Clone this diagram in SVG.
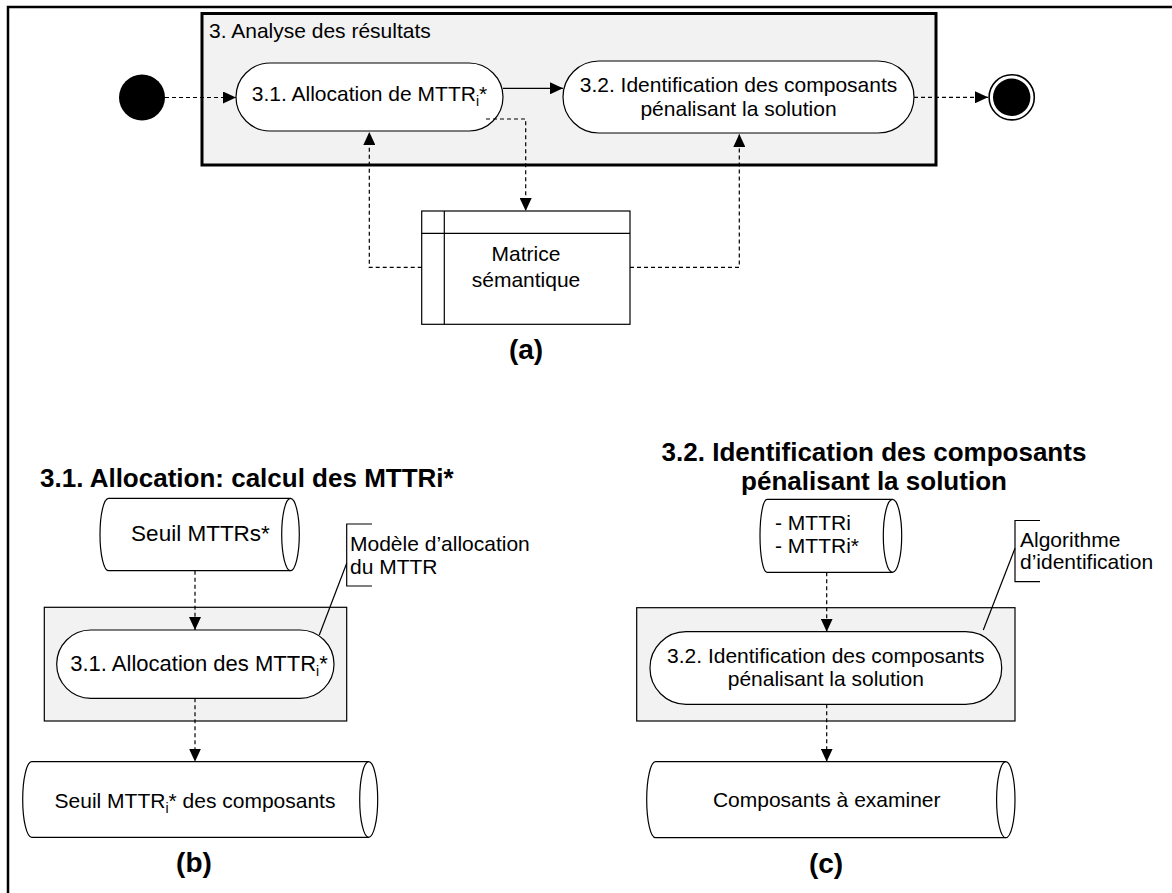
<svg xmlns="http://www.w3.org/2000/svg" width="1172" height="893" viewBox="0 0 1172 893">
  <style>
    text { font-family: "Liberation Sans", Arial, sans-serif; fill: #000; }
    .t { font-size: 21px; }
    .t22 { font-size: 22px; }
    .mid { text-anchor: middle; }
    .title { font-size: 26px; font-weight: bold; }
    .label { font-size: 28px; font-weight: bold; text-anchor: middle; }
    .sub { font-size: 14px; }
    .shape { fill: #fff; stroke: #000; stroke-width: 1.2; }
    .panel { fill: #f2f2f2; stroke: #000; stroke-width: 1.2; }
    .dash { fill: none; stroke: #000; stroke-width: 1.2; stroke-dasharray: 4 3; }
    .solid { fill: none; stroke: #000; stroke-width: 1.2; }
  </style>
  <defs>
    <marker id="arrow" markerUnits="userSpaceOnUse" markerWidth="14" markerHeight="12" refX="13" refY="6" orient="auto">
      <path d="M0,0 L13,6 L0,12 Z" fill="#000"/>
    </marker>
  </defs>

  <rect width="1172" height="893" fill="#fff"/>
  <!-- outer frame -->
  <path d="M8,893 V7 H1172" fill="none" stroke="#000" stroke-width="2.5"/>

  <!-- (a) activity container -->
  <g id="container-analyse">
    <rect x="202" y="13.5" width="734" height="151.5" fill="#f2f2f2" stroke="#000" stroke-width="3"/>
    <text class="t" x="209" y="37.5">3. Analyse des résultats</text>
  </g>

  <g id="start">
    <circle cx="142" cy="97.5" r="23" fill="#000"/>
  </g>

  <g id="end">
    <circle cx="1011.7" cy="97.3" r="22.6" fill="#fff" stroke="#000" stroke-width="1.6"/>
    <circle cx="1011.7" cy="97.3" r="18.7" fill="#000"/>
  </g>

  <g id="a-allocation">
    <rect class="shape" x="236" y="63" width="267" height="68" rx="34" ry="34"/>
    <text class="t mid" x="369.5" y="101">3.1. Allocation de MTTR<tspan class="sub" dy="5">i</tspan><tspan dy="-5">*</tspan></text>
  </g>

  <g id="a-identification">
    <rect class="shape" x="563" y="61" width="351" height="72" rx="36" ry="36"/>
    <text class="t mid" x="738.5" y="91.5">3.2. Identification des composants</text>
    <text class="t mid" x="738.5" y="115.5">pénalisant la solution</text>
  </g>

  <g id="a-matrice">
    <rect class="shape" x="421.7" y="211" width="208.3" height="113.3"/>
    <path class="solid" d="M444.3,211 V324.3 M421.7,233.3 H630"/>
    <text class="t mid" x="526" y="261">Matrice</text>
    <text class="t mid" x="526" y="286.5">sémantique</text>
  </g>

  <text class="label" x="526" y="359">(a)</text>

  <!-- (b) allocation detail -->
  <text class="title" x="40" y="487">3.1. Allocation: calcul des MTTRi*</text>

  <g id="b-seuil">
    <path class="shape" d="M108.5,498.3 H290.5 A8.8,36.2 0 0 1 290.5,570.7 H108.5 A8.5,36.2 0 0 1 108.5,498.3 Z"/>
    <path class="solid" d="M290.5,498.3 A8.8,36.2 0 0 0 290.5,570.7"/>
    <text class="mid" style="font-size:22.5px" x="200.5" y="540.7">Seuil MTTRs*</text>
  </g>

  <g id="b-panel">
    <rect class="panel" x="44.3" y="607.3" width="302.4" height="113.7"/>
  </g>

  <g id="b-allocation">
    <rect class="shape" x="56.7" y="630" width="277.3" height="68.3" rx="34" ry="34"/>
    <text class="t22 mid" x="199" y="671">3.1. Allocation des MTTR<tspan class="sub" dy="5">i</tspan><tspan dy="-5">*</tspan></text>
  </g>

  <g id="b-note">
    <path class="solid" d="M372,524 H346.7 V586 H372"/>
    <text class="t" x="350" y="550.5">Modèle d’allocation</text>
    <text class="t" x="350" y="573.5">du MTTR</text>
  </g>

  <g id="b-seuil-composants">
    <path class="shape" d="M31.7,761.7 H368.7 A9,37.8 0 0 1 368.7,837.3 H31.7 A9,37.8 0 0 1 31.7,761.7 Z"/>
    <path class="solid" d="M368.7,761.7 A9,37.8 0 0 0 368.7,837.3"/>
    <text class="t mid" x="195" y="808.3">Seuil MTTR<tspan class="sub" dy="5">i</tspan><tspan dy="-5">* des composants</tspan></text>
  </g>

  <text class="label" x="194" y="872">(b)</text>

  <!-- (c) identification detail -->
  <text class="title mid" x="874" y="461">3.2. Identification des composants</text>
  <text class="title mid" x="874" y="490">pénalisant la solution</text>

  <g id="c-mttr">
    <path class="shape" d="M767,499.3 H892.5 A9.2,36.5 0 0 1 892.5,572.3 H767 A7,36.5 0 0 1 767,499.3 Z"/>
    <path class="solid" d="M892.5,499.3 A9.2,36.5 0 0 0 892.5,572.3"/>
    <text class="t" x="775" y="530">- MTTRi</text>
    <text class="t" x="775" y="553">- MTTRi*</text>
  </g>

  <g id="c-panel">
    <rect class="panel" x="636.7" y="607.7" width="378.3" height="113.3"/>
  </g>

  <g id="c-identification">
    <rect class="shape" x="650" y="631.7" width="351.7" height="72.6" rx="36" ry="36"/>
    <text class="t mid" x="825.8" y="662.5">3.2. Identification des composants</text>
    <text class="t mid" x="825.8" y="685.5">pénalisant la solution</text>
  </g>

  <g id="c-note">
    <path class="solid" d="M1040,520.5 H1015 V581.7 H1040"/>
    <text class="t" x="1020" y="546.7">Algorithme</text>
    <text class="t" x="1020" y="569.3">d’identification</text>
  </g>

  <g id="c-composants">
    <path class="shape" d="M655.5,761.7 H1005.8 A9.2,38 0 0 1 1005.8,837.7 H655.5 A8.8,38 0 0 1 655.5,761.7 Z"/>
    <path class="solid" d="M1005.8,761.7 A9.2,38 0 0 0 1005.8,837.7"/>
    <text class="t mid" x="826.7" y="807.3">Composants à examiner</text>
  </g>

  <text class="label" x="826" y="873">(c)</text>

  <!-- connectors -->
  <g id="connectors">
    <path class="dash" d="M165,97.5 H236" marker-end="url(#arrow)"/>
    <path class="solid" d="M503,88.3 H563" marker-end="url(#arrow)"/>
    <path class="dash" d="M486,119 H525.7 V211" marker-end="url(#arrow)"/>
    <path class="dash" d="M421.7,267.3 H369.3 V132" marker-end="url(#arrow)"/>
    <path class="dash" d="M630,267.3 H739.3 V134" marker-end="url(#arrow)"/>
    <path class="dash" d="M914,97.3 H988" marker-end="url(#arrow)"/>
    <path class="dash" d="M195,570.7 V630" marker-end="url(#arrow)"/>
    <path class="dash" d="M195,698.3 V761.7" marker-end="url(#arrow)"/>
    <path class="dash" d="M826.7,572.3 V631.7" marker-end="url(#arrow)"/>
    <path class="dash" d="M826.7,704.3 V761.7" marker-end="url(#arrow)"/>
    <path class="solid" d="M346.7,563.3 L319.3,635"/>
    <path class="solid" d="M1015,548.3 L983.3,630"/>
  </g>
</svg>
